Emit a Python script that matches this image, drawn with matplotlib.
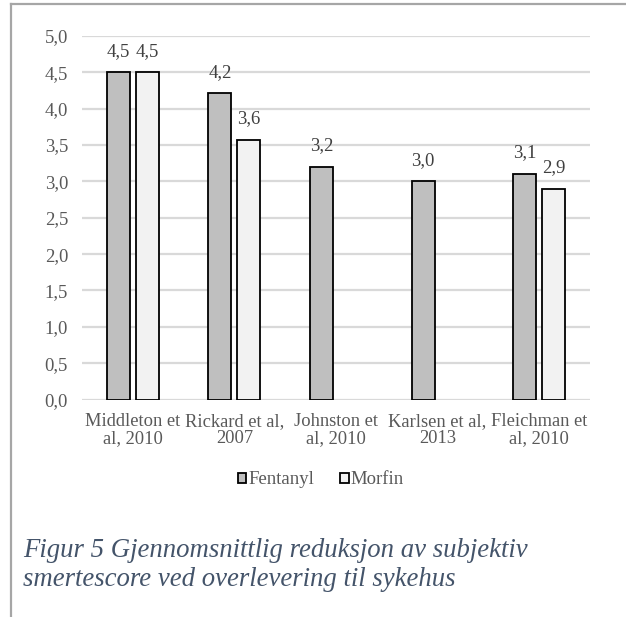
import numpy as np
import matplotlib.pyplot as plt
from matplotlib.lines import Line2D
from matplotlib.patches import Patch

studies = ["Middleton et\nal, 2010", "Rickard et al,\n2007", "Johnston et\nal, 2010",
           "Karlsen et al,\n2013", "Fleichman et\nal, 2010"]
fentanyl = [4.5, 4.21, 3.2, 3.0, 3.1]
morfin = [4.5, 3.57, np.nan, np.nan, 2.9]
yticks = [0.0, 0.5, 1.0, 1.5, 2.0, 2.5, 3.0, 3.5, 4.0, 4.5, 5.0]

W, H = 626, 617
plt.rcParams['font.family'] = ['Liberation Serif', 'DejaVu Serif']
fig = plt.figure(figsize=(W / 100, H / 100), dpi=100)

def comma(v):
    return f"{v:.1f}".replace('.', ',')

# frame of the text box around the figure
fig.add_artist(Line2D([10.5 / W, 10.5 / W], [0, 1 - 3.5 / H], color='#a6a6a6', lw=1.6))
fig.add_artist(Line2D([10.5 / W, 1], [1 - 3.5 / H, 1 - 3.5 / H], color='#a6a6a6', lw=1.6))

ax = fig.add_axes([82 / W, (H - 399.5) / H, 508 / W, 363.5 / H])
x = np.arange(len(studies))
w = 0.226
off = w / 2 + 0.03
b1 = ax.bar(x - off, fentanyl, w, color='#bfbfbf', edgecolor='black', lw=1.3, zorder=3)
b2 = ax.bar(x + off, morfin, w, color='#f2f2f2', edgecolor='black', lw=1.3, zorder=3)

for bars, vals in ((b1, fentanyl), (b2, morfin)):
    for rect, v in zip(bars, vals):
        if np.isnan(v):
            continue
        ax.annotate(comma(v), (rect.get_x() + rect.get_width() / 2, v),
                    xytext=(0, 12), textcoords='offset points',
                    ha='center', va='baseline', fontsize=13.5, color='#404040')

ax.set_xlim(-0.5, len(studies) - 0.5)
ax.set_ylim(0, 5)
ax.set_yticks(yticks)
ax.set_yticklabels([comma(t) for t in yticks], fontsize=13.5, color='#595959')
ax.set_xticks(x)
ax.set_xticklabels(studies, fontsize=13.3, color='#595959', linespacing=1.0)
ax.tick_params(axis='both', length=0)
ax.tick_params(axis='y', pad=10)
ax.tick_params(axis='x', pad=9.5)
for s in ax.spines.values():
    s.set_visible(False)
ax.grid(axis='y', color='#d9d9d9', lw=1.6, zorder=0)
ax.set_axisbelow(True)

handles = [Patch(facecolor='#bfbfbf', edgecolor='black', lw=1.3),
           Patch(facecolor='#f2f2f2', edgecolor='black', lw=1.3)]
leg = fig.legend(handles, ['Fentanyl', 'Morfin'], loc='center', bbox_to_anchor=(321 / W, 1 - 480 / H),
                 ncol=2, frameon=False, fontsize=13.5, handlelength=0.45, handleheight=0.45,
                 handletextpad=0.1, columnspacing=1.4, labelcolor='#595959')

fig.text(23 / W, 1 - 557 / H, "Figur 5 Gjennomsnittlig reduksjon av subjektiv", fontsize=19.3,
         style='italic', color='#44546a', va='baseline')
fig.text(23 / W, 1 - 586 / H, "smertescore ved overlevering til sykehus", fontsize=19.3,
         style='italic', color='#44546a', va='baseline')

fig.savefig('out.png', dpi=100)
